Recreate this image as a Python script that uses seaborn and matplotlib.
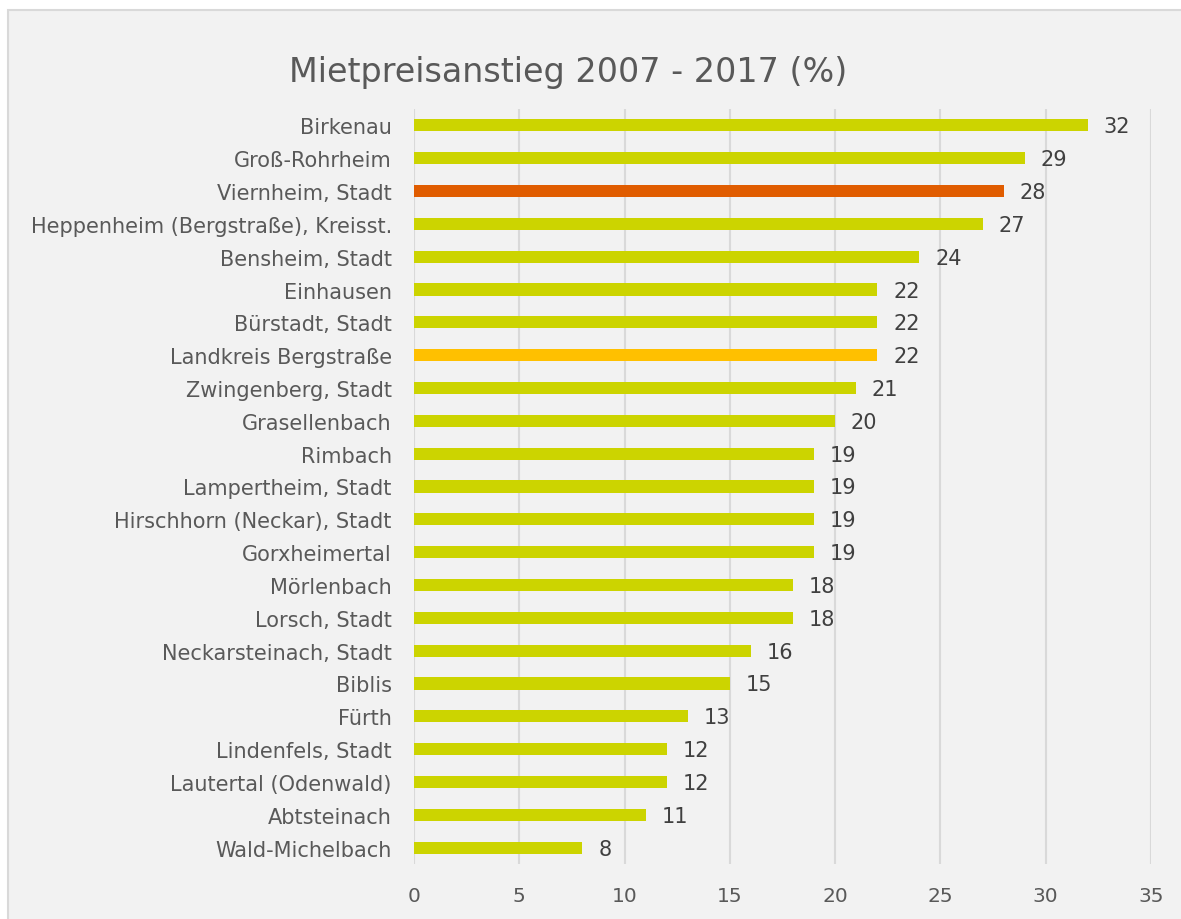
import pandas as pd
import matplotlib.pyplot as plt
import matplotlib.patches as mpatches
import seaborn as sns

# Data
gemeinden = [
    "Birkenau", "Groß-Rohrheim", "Viernheim, Stadt",
    "Heppenheim (Bergstraße), Kreisst.", "Bensheim, Stadt", "Einhausen",
    "Bürstadt, Stadt", "Landkreis Bergstraße", "Zwingenberg, Stadt",
    "Grasellenbach", "Rimbach", "Lampertheim, Stadt",
    "Hirschhorn (Neckar), Stadt", "Gorxheimertal", "Mörlenbach",
    "Lorsch, Stadt", "Neckarsteinach, Stadt", "Biblis", "Fürth",
    "Lindenfels, Stadt", "Lautertal (Odenwald)", "Abtsteinach", "Wald-Michelbach",
]
anstieg = [32, 29, 28, 27, 24, 22, 22, 22, 21, 20, 19, 19, 19, 19, 18, 18, 16, 15, 13, 12, 12, 11, 8]
x_ticks = [0, 5, 10, 15, 20, 25, 30, 35]

df = pd.DataFrame({"Gemeinde": gemeinden, "Anstieg": anstieg})

# Colors: default, Viernheim highlighted, county average highlighted
colors = {g: "#CCD400" for g in gemeinden}
colors["Viernheim, Stadt"] = "#E05C00"
colors["Landkreis Bergstraße"] = "#FFC000"

sns.set_style("white")
plt.rcParams['font.family'] = ['DejaVu Sans']
text_col = "#595959"

fig = plt.figure(figsize=(11.81, 9.2), dpi=100)
fig.patch.set_facecolor("white")
# chart panel with light border
panel = mpatches.Rectangle((8 / 1181, -0.01), 1.02, (920 - 11) / 920 + 0.01,
                           transform=fig.transFigure, facecolor="#F2F2F2",
                           edgecolor="#D9D9D9", linewidth=1.5, zorder=-10)
fig.patches.append(panel)

ax = fig.add_axes([414 / 1181, 1 - 865 / 920, 737 / 1181, 755 / 920])
ax.set_facecolor("none")

sns.barplot(data=df, x="Anstieg", y="Gemeinde", hue="Gemeinde", palette=colors,
            legend=False, width=0.37, linewidth=0, ax=ax, zorder=3, saturation=1)

for i, v in enumerate(anstieg):
    ax.text(v + 0.75, i + 0.03, str(v), va="center", ha="left", fontsize=15,
            color="#404040")

ax.set_xlim(0, 35)
ax.set_ylim(22.5, -0.5)
ax.set_xticks(x_ticks)
ax.grid(axis="x", color="#D9D9D9", linewidth=1.5, zorder=0)
ax.set_axisbelow(True)
for s in ax.spines.values():
    s.set_visible(False)
ax.tick_params(axis="y", length=0, pad=16, labelsize=15, labelcolor=text_col)
ax.tick_params(axis="x", length=0, pad=16, labelsize=14.5, labelcolor=text_col)
ax.set_xlabel("")
ax.set_ylabel("")

fig.text(0.481, 0.921, "Mietpreisanstieg 2007 - 2017 (%)", ha="center", va="center",
         fontsize=24, color=text_col)

plt.savefig("out.png", dpi=100)
